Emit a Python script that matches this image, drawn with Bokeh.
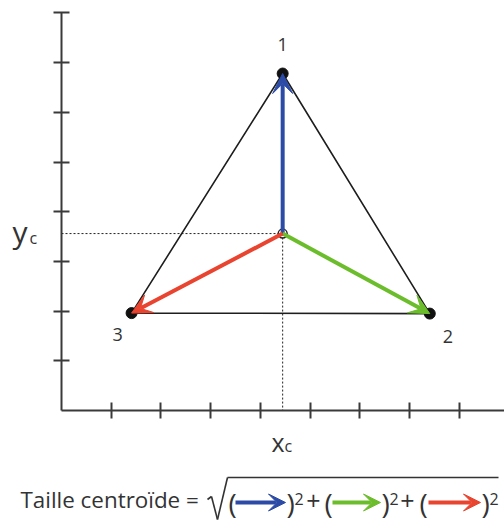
from bokeh.plotting import figure
from bokeh.models import Range1d, FixedTicker, Arrow, VeeHead, ColumnDataSource
from bokeh.embed import file_html
from bokeh.resources import INLINE
from bokeh.core.properties import value

# ---- data (in tick units) ----
vertex_labels = ["1", "2", "3"]
vertex_x = [4.45, 7.41, 1.41]
vertex_y = [6.78, 1.95, 1.96]
centroid_x = 4.45
centroid_y = 3.56
arrow_colors = ["#2c4ba6", "#6cbd2c", "#e8442f"]   # to vertex 1, 2, 3
tick_positions = [1, 2, 3, 4, 5, 6, 7, 8]
formula_text = "Taille centroïde ="

FONT = "Open Sans"
TXT = "#333333"

# ---- layout (page pixels) ----
W, H = 504, 522
AX_X = 61      # page x of the y-axis
AX_Y = 410     # page y of the x-axis
UX = UY = 49.7


def X(px):
    return (px - AX_X) / UX


def Y(py):
    return (AX_Y - py) / UY


p = figure(width=W, height=H, output_backend="svg", toolbar_location=None,
           x_range=Range1d(X(0), X(W)), y_range=Range1d(Y(H), Y(0)),
           min_border=0)
p.outline_line_color = None
p.xgrid.visible = False
p.ygrid.visible = False
p.background_fill_color = "white"
p.border_fill_color = "white"

for ax in (p.xaxis, p.yaxis):
    ax.fixed_location = 0
    ax.ticker = FixedTicker(ticks=tick_positions)
    ax.major_label_overrides = {t: "" for t in tick_positions}
    ax.major_label_text_font_size = "0px"
    ax.major_label_standoff = 0
    ax.axis_line_color = "#3a3a3a"
    ax.axis_line_width = 2
    ax.major_tick_line_color = "#3a3a3a"
    ax.major_tick_line_width = 2
    ax.major_tick_in = 8
    ax.major_tick_out = 8
    ax.minor_tick_line_color = None
p.xaxis.bounds = (0, X(W))
p.yaxis.bounds = (0, 8)

# dotted guide lines to the centroid
p.line([0, centroid_x], [centroid_y, centroid_y], line_color="#222222",
       line_width=1, line_dash="2 2")
p.line([centroid_x, centroid_x], [centroid_y, 0], line_color="#222222",
       line_width=1, line_dash="2 2")

# triangle
p.patch(vertex_x, vertex_y, fill_color=None, line_color="#1e1e1e", line_width=1.6)

# vertex dots
p.scatter(vertex_x, vertex_y, size=11, color="#111111")

# centroid marker
p.scatter([centroid_x], [centroid_y], size=9, fill_color=None,
          line_color="#222222", line_width=1.4)

# arrows centroid -> vertices
for vx, vy, c in zip(vertex_x, vertex_y, arrow_colors):
    p.add_layout(Arrow(x_start=centroid_x, y_start=centroid_y, x_end=vx, y_end=vy,
                       line_color=c, line_width=4,
                       end=VeeHead(size=20, fill_color=c, line_color=c, line_width=1)))

# vertex labels
lab_src = ColumnDataSource(dict(x=vertex_x, y=vertex_y, t=vertex_labels,
                                dx=[0, 18, -14], dy=[-29, 23, 21]))
p.text("x", "y", text="t", source=lab_src, x_offset="dx", y_offset="dy",
       text_font=value(FONT), text_font_size="18px", text_color=TXT,
       text_align="center", text_baseline="middle")


def txt(px, py, text, size, align="left"):
    """py is the wanted alphabetic baseline (page px); drawn with a middle baseline."""
    mid = py - 0.35 * size
    p.text(x=[X(px)], y=[Y(mid)], text=[text], text_font=value(FONT),
           text_font_size=f"{size}px", text_color=TXT, text_align=align,
           text_baseline="middle")


# axis names y_c and x_c
txt(12, 241, "y", 30)
txt(29, 243, "c", 16)
txt(271, 450, "x", 25)
txt(284, 451, "c", 16)

# formula
txt(20, 507, formula_text, 22.4)


def seg(x0, y0, x1, y1, color=TXT, w=1.6, head=None):
    p.add_layout(Arrow(x_start=X(x0), y_start=Y(y0), x_end=X(x1), y_end=Y(y1),
                       line_color=color, line_width=w, end=head))


# radical sign
seg(207, 499, 211, 496)
seg(211, 496, 217, 519)
seg(217, 519, 227, 477)
seg(227, 477, 498, 477)

FY = 502
groups = [(228, 235, 285), (324, 332, 380), (419, 428, 480)]
plus_centers = [313, 407]
for i, ((lp, a0, a1), c) in enumerate(zip(groups, arrow_colors)):
    txt(lp, 512, "(", 28)
    seg(a0, FY, a1, FY, color=c, w=4,
        head=VeeHead(size=17, fill_color=c, line_color=c, line_width=1))
    txt(a1 + 1, 512, ")", 28)
    txt(a1 + 9, 504, "2", 16)
    if i < 2:
        txt(plus_centers[i], 509, "+", 25, align="center")

open("out.html", "w").write(file_html(p, INLINE))
